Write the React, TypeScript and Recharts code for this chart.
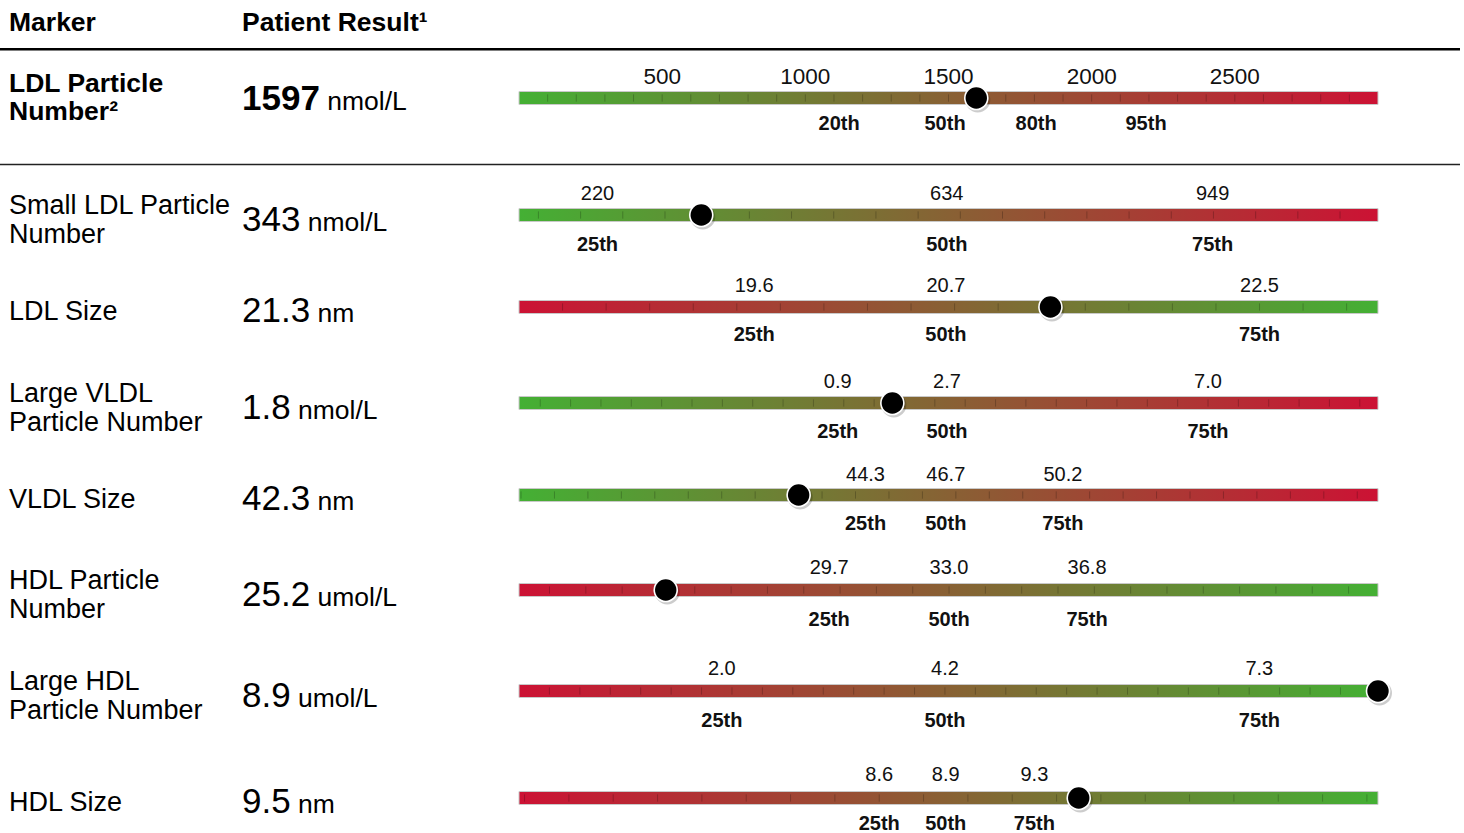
import React from "react";
import { ComposedChart, XAxis, YAxis, ReferenceArea, ReferenceLine, Scatter } from "recharts";

// ---------- data ----------
const markerLines: string[][] = [
  ["LDL Particle", "Number²"],
  ["Small LDL Particle", "Number"],
  ["LDL Size"],
  ["Large VLDL", "Particle Number"],
  ["VLDL Size"],
  ["HDL Particle", "Number"],
  ["Large HDL", "Particle Number"],
  ["HDL Size"],
];
const resultValues = [1597, 343, 21.3, 1.8, 42.3, 25.2, 8.9, 9.5];
const resultLabels = ["1597", "343", "21.3", "1.8", "42.3", "25.2", "8.9", "9.5"];
const units = ["nmol/L", "nmol/L", "nm", "nmol/L", "nm", "umol/L", "umol/L", "nm"];
const scaleMin = [0, 127, 18.25, -4.35, 33.94, 21.16, 0, 6.975];
const scaleMax = [3000, 1145, 23.18, 9.8, 59.62, 44.81, 8.47, 10.85];
const valueTicks: number[][] = [
  [500, 1000, 1500, 2000, 2500],
  [220, 634, 949],
  [19.6, 20.7, 22.5],
  [0.9, 2.7, 7.0],
  [44.3, 46.7, 50.2],
  [29.7, 33.0, 36.8],
  [2.0, 4.2, 7.3],
  [8.6, 8.9, 9.3],
];
const valueTickLabels: string[][] = [
  ["500", "1000", "1500", "2000", "2500"],
  ["220", "634", "949"],
  ["19.6", "20.7", "22.5"],
  ["0.9", "2.7", "7.0"],
  ["44.3", "46.7", "50.2"],
  ["29.7", "33.0", "36.8"],
  ["2.0", "4.2", "7.3"],
  ["8.6", "8.9", "9.3"],
];
const percentileTicks: number[][] = [
  [1118, 1488, 1806, 2190],
  [220, 634, 949],
  [19.6, 20.7, 22.5],
  [0.9, 2.7, 7.0],
  [44.3, 46.7, 50.2],
  [29.7, 33.0, 36.8],
  [2.0, 4.2, 7.3],
  [8.6, 8.9, 9.3],
];
const percentileLabels: string[][] = [
  ["20th", "50th", "80th", "95th"],
  ["25th", "50th", "75th"],
  ["25th", "50th", "75th"],
  ["25th", "50th", "75th"],
  ["25th", "50th", "75th"],
  ["25th", "50th", "75th"],
  ["25th", "50th", "75th"],
  ["25th", "50th", "75th"],
];
const higherIsBetter = [false, false, true, false, false, true, true, true];
const minorStep = [100, 50, 0.25, 0.5, 1, 1, 0.3, 0.2];

// ---------- layout ----------
const FONT = "'Liberation Sans', Arial, Helvetica, sans-serif";
const PAGE_W = 1464;
const PAGE_H = 833;
const PLOT_LEFT = 519;
const PLOT_RIGHT = 1378;
const ROW_H = 80;
const MID = 40;
const BAR_H = 13;
const AXIS_H = 30;
const barCenters = [97.5, 215, 306.5, 403, 494.5, 590, 691, 797.5];
const topOffset = [-22, -22.5, -22, -22.5, -21.5, -23, -23, -24];
const bottomOffset = [25, 29, 27, 28, 28, 29, 29, 25];
const GREEN = "#44b034";
const RED = "#cc1234";

const PatientDot = (props: any) => {
  const { cx, cy } = props;
  if (cx == null || cy == null) return null;
  return (
    <g>
      <circle cx={cx + 1.5} cy={cy + 2} r={12.5} fill="#000" opacity={0.2} />
      <circle cx={cx} cy={cy} r={12.3} fill="#fff" />
      <circle cx={cx} cy={cy} r={10.7} fill="#000" />
    </g>
  );
};
const NoShape = () => <g />;

function Row({ i }: { i: number }) {
  const lo = scaleMin[i];
  const hi = scaleMax[i];
  const step = minorStep[i];
  const minor: number[] = [];
  for (let k = Math.ceil((lo + 1e-9) / step); k * step < hi - 1e-9; k++) {
    minor.push(+(k * step).toFixed(4));
  }
  const plotted = Math.min(Math.max(resultValues[i], lo), hi);
  const pts = [{ x: plotted, y: 0.5 }];
  const gradId = `barGrad${i}`;
  const topFont = i === 0 ? 22.5 : 20;

  const TopTick = (p: any) => {
    const idx = valueTicks[i].indexOf(p.payload.value);
    return (
      <text x={p.x} y={MID + topOffset[i]} dy="0.36em" textAnchor="middle" fontSize={topFont} fontFamily={FONT} fill="#111">
        {valueTickLabels[i][idx]}
      </text>
    );
  };
  const BottomTick = (p: any) => {
    const idx = percentileTicks[i].indexOf(p.payload.value);
    return (
      <text x={p.x} y={MID + bottomOffset[i]} dy="0.36em" textAnchor="middle" fontSize={20} fontWeight="bold" fontFamily={FONT} fill="#111">
        {percentileLabels[i][idx]}
      </text>
    );
  };

  return (
    <ComposedChart
      width={PAGE_W}
      height={ROW_H}
      data={pts}
      margin={{
        top: MID - BAR_H / 2 - AXIS_H,
        bottom: ROW_H - MID - BAR_H / 2 - AXIS_H,
        left: PLOT_LEFT,
        right: PAGE_W - PLOT_RIGHT,
      }}
    >
      <defs>
        <linearGradient id={gradId} x1="0" x2="1" y1="0" y2="0">
          <stop offset="0" stopColor={higherIsBetter[i] ? RED : GREEN} />
          <stop offset="1" stopColor={higherIsBetter[i] ? GREEN : RED} />
        </linearGradient>
      </defs>
      <XAxis
        xAxisId="v"
        dataKey="x"
        type="number"
        domain={[lo, hi]}
        orientation="top"
        ticks={valueTicks[i]}
        interval={0}
        height={AXIS_H}
        axisLine={false}
        tickLine={false}
        tick={TopTick}
      />
      <XAxis
        xAxisId="p"
        dataKey="x"
        type="number"
        domain={[lo, hi]}
        orientation="bottom"
        ticks={percentileTicks[i]}
        interval={0}
        height={AXIS_H}
        axisLine={false}
        tickLine={false}
        tick={BottomTick}
      />
      <YAxis yAxisId="y" dataKey="y" type="number" domain={[0, 1]} hide />
      <ReferenceArea
        xAxisId="v"
        yAxisId="y"
        x1={lo}
        x2={hi}
        y1={0}
        y2={1}
        fill={`url(#${gradId})`}
        fillOpacity={1}
        stroke="#c9c9c9"
        strokeWidth={1}
      />
      {minor.map((v) => (
        <ReferenceLine
          key={v}
          xAxisId="v"
          yAxisId="y"
          segment={[
            { x: v, y: 0.22 },
            { x: v, y: 0.78 },
          ]}
          stroke="#000"
          strokeOpacity={0.22}
          strokeWidth={1}
        />
      ))}
      <Scatter xAxisId="p" yAxisId="y" data={pts} dataKey="y" shape={NoShape} isAnimationActive={false} />
      <Scatter xAxisId="v" yAxisId="y" data={pts} dataKey="y" shape={PatientDot} isAnimationActive={false} />
    </ComposedChart>
  );
}

export default function App() {
  const labelSize = 27;
  const valueSize = 35;
  const unitSize = 26.5;
  return (
    <div style={{ position: "absolute", left: 0, top: 0, width: PAGE_W, height: PAGE_H, background: "#fff", fontFamily: FONT }}>
      <svg width={PAGE_W} height={PAGE_H} style={{ position: "absolute", left: 0, top: 0 }}>
        <text x={9} y={21 + 0.36 * 26.5} fontSize={26.5} fontWeight="bold" fontFamily={FONT} fill="#000">Marker</text>
        <text x={242} y={21 + 0.36 * 26.5} fontSize={26.5} fontWeight="bold" fontFamily={FONT} fill="#000">Patient Result¹</text>
        <line x1={0} x2={1460} y1={49.3} y2={49.3} stroke="#000" strokeWidth={2.5} />
        <line x1={0} x2={1460} y1={164.5} y2={164.5} stroke="#222" strokeWidth={1.6} />
        {markerLines.map((lines, i) => {
          const bold = i === 0;
          const fs = bold ? 26.5 : labelSize;
          const spacing = bold ? 28 : 29;
          const mid = barCenters[i] + (bold ? -1.5 : 3.5);
          const first = mid - ((lines.length - 1) * spacing) / 2;
          return (
            <text key={"l" + i} fontSize={fs} fontWeight={bold ? "bold" : "normal"} fontFamily={FONT} fill="#000">
              {lines.map((ln, j) => (
                <tspan key={j} x={9} y={first + j * spacing + 0.36 * fs}>
                  {ln}
                </tspan>
              ))}
            </text>
          );
        })}
        {resultLabels.map((r, i) => {
          const bold = i === 0;
          const c = barCenters[i] + (bold ? 0 : 3);
          return (
            <text key={"v" + i} x={242} y={c + 0.36 * valueSize} fontFamily={FONT} fill="#000">
              <tspan fontSize={valueSize} fontWeight={bold ? "bold" : "normal"}>{r}</tspan>
              <tspan fontSize={unitSize} fontWeight="normal">{" " + units[i]}</tspan>
            </text>
          );
        })}
      </svg>
      {barCenters.map((bc, i) => (
        <div key={i} style={{ position: "absolute", left: 0, top: bc - MID, width: PAGE_W, height: ROW_H }}>
          <Row i={i} />
        </div>
      ))}
    </div>
  );
}
